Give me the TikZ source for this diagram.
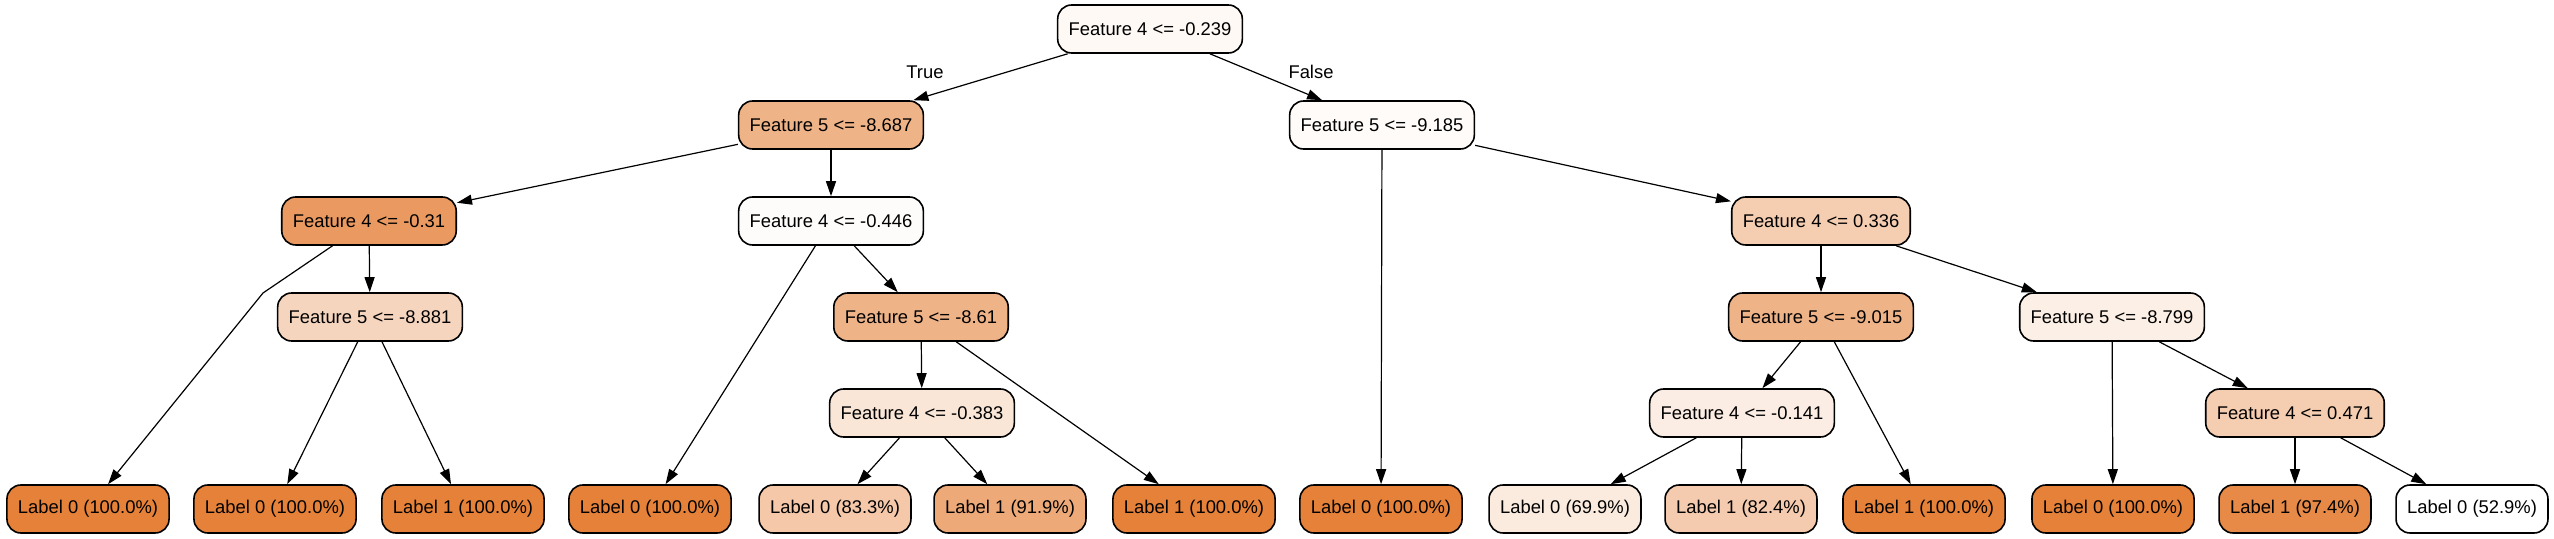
\documentclass[tikz,border=0pt]{standalone}
\usepackage{fontspec}
\setmainfont{Liberation Sans}
\usetikzlibrary{arrows.meta}
\definecolor{leafc}{HTML}{E58139}
\tikzset{
  box/.style={draw,rounded corners=7pt,line width=0.8pt,minimum height=24pt,inner xsep=5.5pt,font=\fontsize{9.2}{11}\selectfont},
  edge/.style={-{Triangle[length=7.5pt,width=5pt]},line width=0.6pt},
  lbl/.style={font=\fontsize{9.2}{11}\selectfont}
}
\begin{document}
\begin{tikzpicture}[x=0.5pt,y=-0.5pt]
\useasboundingbox (0,0) rectangle (2554,539);
\node[box,fill=leafc!5] (n0) at (1150,29) {Feature 4 <= -0.239};
\node[box,fill=leafc!60] (n1) at (831,125) {Feature 5 <= -8.687};
\node[box,fill=leafc!3] (n14) at (1382,125) {Feature 5 <= -9.185};
\node[box,fill=leafc!80] (n2) at (369,221) {Feature 4 <= -0.31};
\node[box,fill=leafc!2] (n7) at (831,221) {Feature 4 <= -0.446};
\node[box,fill=leafc!40] (n16) at (1821,221) {Feature 4 <= 0.336};
\node[box,fill=leafc!33] (n4) at (370,317) {Feature 5 <= -8.881};
\node[box,fill=leafc!60] (n9) at (921,317) {Feature 5 <= -8.61};
\node[box,fill=leafc!60] (n17) at (1821,317) {Feature 5 <= -9.015};
\node[box,fill=leafc!13] (n22) at (2112,317) {Feature 5 <= -8.799};
\node[box,fill=leafc!20] (n10) at (922,413) {Feature 4 <= -0.383};
\node[box,fill=leafc!14] (n18) at (1742,413) {Feature 4 <= -0.141};
\node[box,fill=leafc!40] (n24) at (2295,413) {Feature 4 <= 0.471};
\node[box,fill=leafc] (n3) at (88,509) {Label 0 (100.0\%)};
\node[box,fill=leafc] (n5) at (275,509) {Label 0 (100.0\%)};
\node[box,fill=leafc] (n6) at (463,509) {Label 1 (100.0\%)};
\node[box,fill=leafc] (n8) at (650,509) {Label 0 (100.0\%)};
\node[box,fill=leafc!44] (n11) at (835,509) {Label 0 (83.3\%)};
\node[box,fill=leafc!68] (n12) at (1010,509) {Label 1 (91.9\%)};
\node[box,fill=leafc] (n13) at (1194,509) {Label 1 (100.0\%)};
\node[box,fill=leafc] (n15) at (1381,509) {Label 0 (100.0\%)};
\node[box,fill=leafc!16] (n19) at (1565,509) {Label 0 (69.9\%)};
\node[box,fill=leafc!41] (n20) at (1741,509) {Label 1 (82.4\%)};
\node[box,fill=leafc] (n21) at (1924,509) {Label 1 (100.0\%)};
\node[box,fill=leafc] (n23) at (2113,509) {Label 0 (100.0\%)};
\node[box,fill=leafc!93] (n25) at (2295,509) {Label 1 (97.4\%)};
\node[box,fill=white] (n26) at (2472,509) {Label 0 (52.9\%)};
\node[lbl] (t) at (925,72) {True};
\node[lbl] (f) at (1311,72) {False};
\coordinate (b3) at (263,293);
\draw[edge] (n0) -- (n1);
\draw[edge] (n0) -- (n14);
\draw[edge] (n1) -- (n2);
\draw[edge] (n1) -- (n7);
\draw[edge] (n2) -- (b3) -- (n3);
\draw[edge] (n2) -- (n4);
\draw[edge] (n4) -- (n5);
\draw[edge] (n4) -- (n6);
\draw[edge] (n7) -- (n8);
\draw[edge] (n7) -- (n9);
\draw[edge] (n9) -- (n10);
\draw[edge] (n9) -- (n13);
\draw[edge] (n10) -- (n11);
\draw[edge] (n10) -- (n12);
\draw[edge] (n14) -- (n15);
\draw[edge] (n14) -- (n16);
\draw[edge] (n16) -- (n17);
\draw[edge] (n16) -- (n22);
\draw[edge] (n17) -- (n18);
\draw[edge] (n17) -- (n21);
\draw[edge] (n18) -- (n19);
\draw[edge] (n18) -- (n20);
\draw[edge] (n22) -- (n23);
\draw[edge] (n22) -- (n24);
\draw[edge] (n24) -- (n25);
\draw[edge] (n24) -- (n26);
\end{tikzpicture}
\end{document}
